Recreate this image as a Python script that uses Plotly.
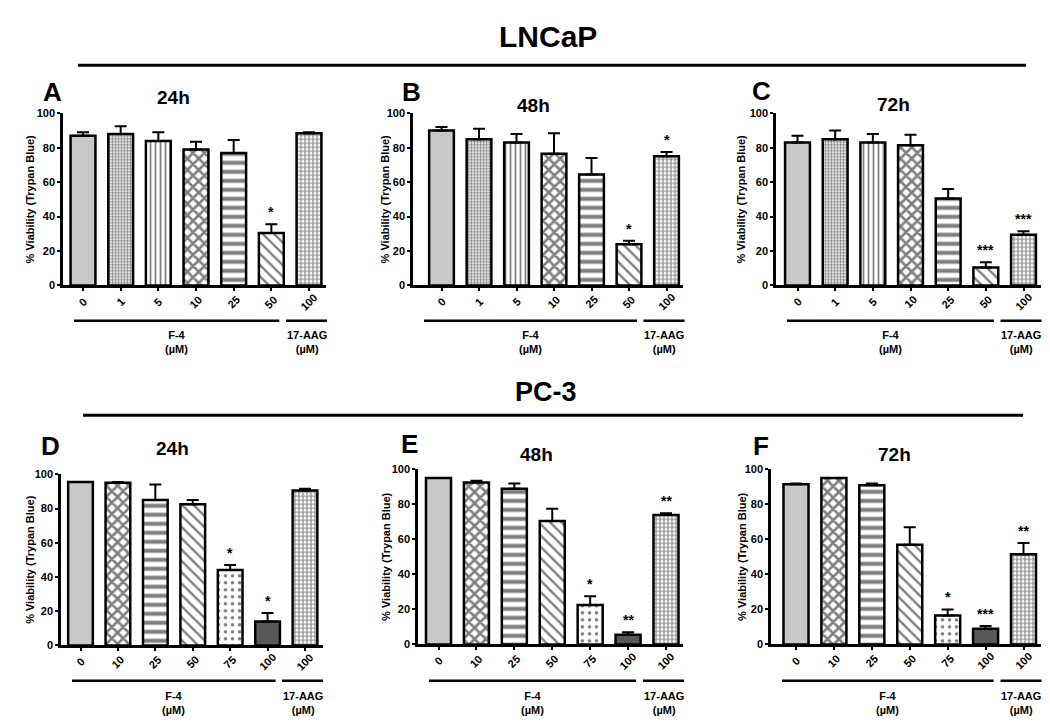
import plotly.graph_objects as go

# ---------------- data ----------------
lncap_labels = ["0", "1", "5", "10", "25", "50", "100"]
pc3_labels = ["0", "10", "25", "50", "75", "100", "100"]

A_vals = [87, 88, 84, 79, 77, 30.5, 88.5]
A_err = [2, 4.5, 5, 4.5, 7.5, 5, 0.5]
A_sig = ["", "", "", "", "", "*", ""]

B_vals = [90, 85, 83, 76.5, 64.5, 24, 75]
B_err = [2, 6, 5, 12, 9.5, 2, 2.5]
B_sig = ["", "", "", "", "", "*", "*"]

C_vals = [83, 85, 83, 81.5, 50.5, 10.5, 29.5]
C_err = [4, 5, 5, 6, 5.5, 3, 2]
C_sig = ["", "", "", "", "", "***", "***"]

D_vals = [95.5, 95, 85, 82.5, 44, 14, 90.5]
D_err = [0, 0.5, 9, 2.5, 3, 5, 1]
D_sig = ["", "", "", "", "*", "*", ""]

E_vals = [95, 92.5, 89, 70.5, 22.5, 5.5, 74]
E_err = [0, 1, 3, 7, 5, 1.5, 1]
E_sig = ["", "", "", "", "*", "**", "**"]

F_vals = [91.5, 95, 91, 57, 16.5, 9, 51.5]
F_err = [0.5, 0, 1, 10, 3.5, 1.5, 6.5]
F_sig = ["", "", "", "", "*", "***", "**"]

# ---------------- styles ----------------
W, H = 1050, 728
FONT = "Liberation Sans, Arial, sans-serif"
GRAY = "#c8c8c8"
DARK = "#585858"

lncap_style = dict(
    shape=["", ".", "|", "x", "-", "\\", "+"],
    bg=[GRAY, "white", "white", "white", "white", "white", "white"],
    size=[8, 3, 5, 8, 9, 8, 4],
    solid=[0.3, 0.5, 0.35, 0.55, 0.45, 0.3, 0.45],
)
pc3_style = dict(
    shape=["", "x", "-", "\\", ".", "", "+"],
    bg=[GRAY, "white", "white", "white", "white", DARK, "white"],
    size=[8, 8, 9, 8, 7, 8, 4],
    solid=[0.3, 0.55, 0.45, 0.3, 0.2, 0.3, 0.45],
)

# panel layout in pixels: x0, x1, ytop, ybot, first bar center, last bar center
panels = [
    dict(letter="A", title="24h", vals=A_vals, err=A_err, sig=A_sig, labels=lncap_labels, style=lncap_style,
         x0=55, x1=318, yt=101, yb=276, c0=75, c6=301,
         letter_xy=(44, 79), title_xy=(165, 85), ytitle_x=22, grp_y=312, grp_txt_y=334),
    dict(letter="B", title="48h", vals=B_vals, err=B_err, sig=B_sig, labels=lncap_labels, style=lncap_style,
         x0=405, x1=675, yt=101, yb=276, c0=433.5, c6=658.5,
         letter_xy=(403, 79), title_xy=(525, 93), ytitle_x=377, grp_y=312, grp_txt_y=334),
    dict(letter="C", title="72h", vals=C_vals, err=C_err, sig=C_sig, labels=lncap_labels, style=lncap_style,
         x0=768, x1=1033, yt=101, yb=276, c0=789.5, c6=1015.5,
         letter_xy=(753, 78), title_xy=(885, 92), ytitle_x=733, grp_y=312, grp_txt_y=334),
    dict(letter="D", title="24h", vals=D_vals, err=D_err, sig=D_sig, labels=pc3_labels, style=pc3_style,
         x0=53, x1=315, yt=468, yb=642, c0=72.5, c6=297,
         letter_xy=(42, 439), title_xy=(164, 442), ytitle_x=22, grp_y=678, grp_txt_y=701),
    dict(letter="E", title="48h", vals=E_vals, err=E_err, sig=E_sig, labels=pc3_labels, style=pc3_style,
         x0=410, x1=675, yt=463, yb=641, c0=430.5, c6=658,
         letter_xy=(401, 437), title_xy=(528, 448), ytitle_x=378, grp_y=678, grp_txt_y=701),
    dict(letter="F", title="72h", vals=F_vals, err=F_err, sig=F_sig, labels=pc3_labels, style=pc3_style,
         x0=763, x1=1033, yt=463, yb=641, c0=788, c6=1015.5,
         letter_xy=(753, 439), title_xy=(886, 448), ytitle_x=734, grp_y=678, grp_txt_y=701),
]


def px(x):
    return x / W


def py(y):
    return 1 - y / H


fig = go.Figure()
annotations = []
shapes = []

for i, p in enumerate(panels, start=1):
    suffix = "" if i == 1 else str(i)
    n = len(p["vals"])
    st = p["style"]
    for j in range(n):
        fig.add_trace(go.Bar(
            x=[j], y=[p["vals"][j]], width=0.66,
            xaxis="x" + suffix, yaxis="y" + suffix,
            marker=dict(
                color=st["bg"][j],
                line=dict(color="black", width=2.5),
                pattern=dict(shape=st["shape"][j], fgcolor="black", bgcolor=st["bg"][j],
                             size=st["size"][j], solidity=st["solid"][j]),
            ),
            error_y=dict(type="data", array=[p["err"][j]], arrayminus=[0], symmetric=False,
                         color="black", thickness=2, width=6, visible=True),
            showlegend=False, hoverinfo="skip",
        ))

    s = (p["c6"] - p["c0"]) / (n - 1)
    xr = [-(p["c0"] - p["x0"]) / s, (n - 1) + (p["x1"] - p["c6"]) / s]
    axis_common = dict(showline=True, linecolor="black", linewidth=2.5, ticks="outside",
                       tickwidth=2, ticklen=3, tickcolor="black", showgrid=False, zeroline=False,
                       tickfont=dict(family=FONT, size=11, color="black", weight="bold"))
    fig.update_layout(**{
        "xaxis" + suffix: dict(domain=[px(p["x0"]), px(p["x1"])], anchor="y" + suffix, range=xr,
                               tickmode="array", tickvals=list(range(n)), showticklabels=False,
                               **axis_common),
        "yaxis" + suffix: dict(domain=[py(p["yb"]), py(p["yt"])], anchor="x" + suffix, range=[0, 100],
                               tickvals=[0, 20, 40, 60, 80, 100], **axis_common),
    })

    xref, yref = "x" + suffix, "y" + suffix
    # rotated category labels
    for j, lab in enumerate(p["labels"]):
        annotations.append(dict(x=j, y=0, xref=xref, yref=yref, text=lab, showarrow=False,
                                textangle=-45, xanchor="center", yanchor="middle", yshift=-17,
                                font=dict(family=FONT, size=11, color="black", weight="bold")))
    # significance stars
    for j, (v, e, sg) in enumerate(zip(p["vals"], p["err"], p["sig"])):
        if sg:
            annotations.append(dict(x=j, y=v + e, xref=xref, yref=yref, text=sg, showarrow=False,
                                    yanchor="middle", yshift=12,
                                    font=dict(family=FONT, size=14, color="black", weight="bold")))
    # panel letter and time title
    annotations.append(dict(x=px(p["letter_xy"][0]), y=py(p["letter_xy"][1]), xref="paper", yref="paper",
                            text=p["letter"], showarrow=False, xanchor="center", yanchor="middle",
                            font=dict(family=FONT, size=26, color="black", weight="bold")))
    annotations.append(dict(x=px(p["title_xy"][0]), y=py(p["title_xy"][1]), xref="paper", yref="paper",
                            text=p["title"], showarrow=False, xanchor="center", yanchor="middle",
                            font=dict(family=FONT, size=19, color="black", weight="bold")))
    # y-axis title
    annotations.append(dict(x=px(p["ytitle_x"]), y=py((p["yt"] + p["yb"]) / 2), xref="paper", yref="paper",
                            text="% Viability (Trypan Blue)", textangle=-90, showarrow=False,
                            xanchor="center", yanchor="middle",
                            font=dict(family=FONT, size=11, color="black", weight="bold")))
    # grouping lines below axis
    c5 = p["c0"] + 5 * s
    f_l, f_r = p["x0"] + 11, c5 + 8
    a_l, a_r = p["c6"] - 23, p["c6"] + 18
    for l, r in [(f_l, f_r), (a_l, a_r)]:
        shapes.append(dict(type="line", xref="paper", yref="paper", x0=px(l), x1=px(r),
                           y0=py(p["grp_y"]), y1=py(p["grp_y"]), line=dict(color="black", width=2.5)))
    for txt, cx in [("F-4<br>(µM)", (f_l + f_r) / 2), ("17-AAG<br>(µM)", (a_l + a_r) / 2)]:
        annotations.append(dict(x=px(cx), y=py(p["grp_txt_y"]), xref="paper", yref="paper",
                                text=txt, showarrow=False, xanchor="center", yanchor="middle",
                                font=dict(family=FONT, size=11, color="black", weight="bold")))

# section headers
annotations.append(dict(x=px(540), y=py(23), xref="paper", yref="paper", text="LNCaP", showarrow=False,
                        xanchor="center", yanchor="middle",
                        font=dict(family=FONT, size=30, color="black", weight="bold")))
annotations.append(dict(x=px(538), y=py(384), xref="paper", yref="paper", text="PC-3", showarrow=False,
                        xanchor="center", yanchor="middle",
                        font=dict(family=FONT, size=27, color="black", weight="bold")))
shapes.append(dict(type="line", xref="paper", yref="paper", x0=px(70), x1=px(1018), y0=py(52), y1=py(52),
                   line=dict(color="black", width=3)))
shapes.append(dict(type="line", xref="paper", yref="paper", x0=px(75), x1=px(1015), y0=py(408), y1=py(408),
                   line=dict(color="black", width=3)))

fig.update_layout(width=W, height=H, margin=dict(l=0, r=0, t=0, b=0),
                  paper_bgcolor="white", plot_bgcolor="white", barmode="overlay",
                  annotations=annotations, shapes=shapes,
                  font=dict(family=FONT, color="black"))

fig.write_html("out.html")
